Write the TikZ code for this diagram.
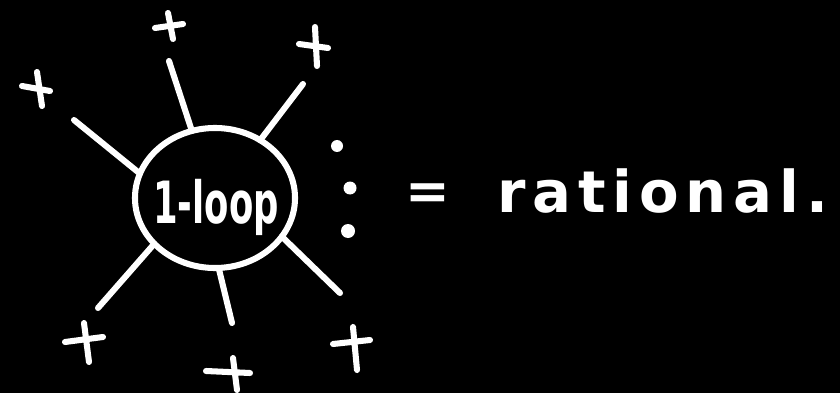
\documentclass[tikz,border=0pt]{standalone}
\usepackage{fontspec}
\usetikzlibrary{shapes.geometric}
\newfontfamily\handfont{DejaVu Sans}
\newfontfamily\handwide[LetterSpace=12]{DejaVu Sans}

\begin{document}
\begin{tikzpicture}[x=0.025cm,y=-0.025cm,line cap=round,line join=round,
  pen/.style={white,line width=4.3pt},
  hand/.style={white,inner sep=0pt,outer sep=0pt}]
\fill[black] (0,0) rectangle (840,393);
\useasboundingbox (0,0) rectangle (840,393);
% the loop
\node[pen,draw,ellipse,minimum width=4cm,minimum height=3.5cm,inner sep=0pt,outer sep=0pt] (loop) at (215,198) {};
\node[hand,anchor=base,xscale=0.7,yscale=1.15,font=\handfont\bfseries\fontsize{36}{36}\selectfont] (looplabel) at (216,223) {1-loop};
% external legs
\coordinate (e1) at (74,120);
\coordinate (e2) at (169,61);
\coordinate (e3) at (303,84);
\coordinate (e4) at (98,308);
\coordinate (e5) at (232,323);
\coordinate (e6) at (340,293);
\draw[pen] (loop.162) -- (e1);
\draw[pen] (loop.109) -- (e2);
\draw[pen] (loop.52) -- (e3);
\draw[pen] (loop.217) -- (e4);
\draw[pen] (loop.273) -- (e5);
\draw[pen] (loop.330) -- (e6);
% plus helicities
\draw[pen] (22,86) -- (50,91) (37,72) -- (42,106);
\draw[pen] (155,28) -- (183,24) (168,13) -- (173,39);
\draw[pen] (299,44) -- (328,48) (315,27) -- (317,66);
\draw[pen] (65,342) -- (103,337) (84,323) -- (89,362);
\draw[pen] (206,371) -- (250,373) (233,358) -- (237,390);
\draw[pen] (333,344) -- (370,340) (353,327) -- (357,370);
% dots
\fill[white] (337,146) circle (6);
\fill[white] (350,188) circle (6.5);
\fill[white] (348,231) circle (7);
% right hand side
\node[hand,font=\handfont\bfseries\fontsize{38}{38}\selectfont] (eq) at (428,197) {=};
\node[hand,anchor=base west,font=\handwide\bfseries\fontsize{41}{41}\selectfont] (rhs) at (497,212) {rational.};
\end{tikzpicture}
\end{document}
